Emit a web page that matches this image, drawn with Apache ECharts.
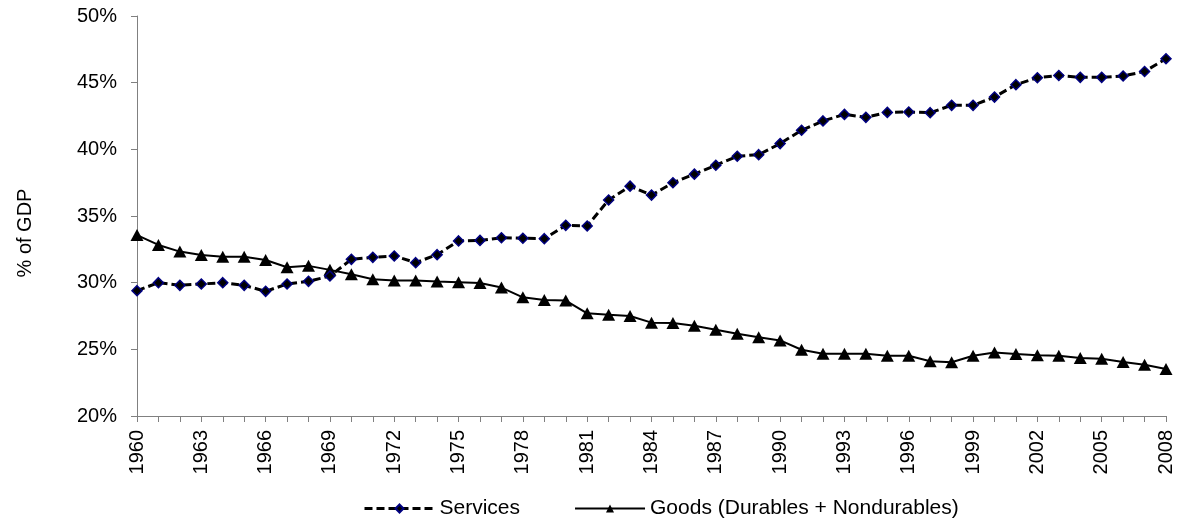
<!DOCTYPE html>
<html>
<head>
<meta charset="utf-8">
<script src="https://cdn.jsdelivr.net/npm/echarts@6/dist/echarts.min.js"></script>
<style>html,body{margin:0;padding:0;background:#fff;}#chart{width:1178px;height:520px;}</style>
</head>
<body>
<div id="chart"></div>
<script>
const years = [];
for (let y = 1960; y <= 2008; y++) years.push(String(y));
const services = [29.4, 30.0, 29.8, 29.9, 30.0, 29.8, 29.35, 29.9, 30.1, 30.5,
  31.75, 31.9, 32.0, 31.5, 32.1, 33.13, 33.17, 33.37, 33.33, 33.3,
  34.3, 34.25, 36.2, 37.24, 36.57, 37.49, 38.14, 38.81, 39.48, 39.6,
  40.43, 41.43, 42.13, 42.62, 42.4, 42.77, 42.8, 42.75, 43.3, 43.3,
  43.92, 44.85, 45.37, 45.54, 45.4, 45.4, 45.5, 45.84, 46.79];
const goods = [33.57, 32.83, 32.33, 32.08, 31.95, 31.95, 31.7, 31.16, 31.26, 30.96,
  30.63, 30.26, 30.16, 30.16, 30.08, 30.04, 29.98, 29.63, 28.9, 28.7,
  28.66, 27.7, 27.6, 27.5, 27.0, 26.97, 26.77, 26.47, 26.17, 25.9,
  25.67, 24.97, 24.67, 24.67, 24.67, 24.52, 24.52, 24.1, 24.03, 24.52,
  24.77, 24.65, 24.55, 24.52, 24.35, 24.3, 24.05, 23.85, 23.53];
const seriesNames = ['Services', 'Goods (Durables + Nondurables)'];
const yAxisTitle = '% of GDP';

const font = 'Liberation Sans, Arial, sans-serif';
const chart = echarts.init(document.getElementById('chart'), null, {renderer: 'canvas'});
chart.setOption({
  animation: false,
  backgroundColor: '#ffffff',
  grid: {left: 137, right: 12, top: 16, bottom: 104, containLabel: false},
  legend: {
    data: [
      {name: seriesNames[0], lineStyle: {width: 3, type: [8, 4]}},
      {name: seriesNames[1], lineStyle: {width: 2}}
    ],
    top: 493,
    left: 358,
    itemWidth: 70,
    itemHeight: 10,
    itemGap: 54,
    textStyle: {fontFamily: font, fontSize: 21, color: '#000'}
  },
  xAxis: {
    type: 'category',
    data: years,
    boundaryGap: false,
    axisLine: {lineStyle: {color: '#808080', width: 1}},
    axisTick: {interval: 0, length: 6, lineStyle: {color: '#808080'}},
    axisLabel: {interval: 2, rotate: 90, margin: 14, fontFamily: font, fontSize: 20, color: '#000'},
    splitLine: {show: false}
  },
  yAxis: {
    type: 'value',
    min: 20, max: 50, interval: 5,
    name: yAxisTitle,
    nameLocation: 'middle',
    nameGap: 102,
    nameRotate: 90,
    nameTextStyle: {fontFamily: font, fontSize: 20, color: '#000', padding: [0, 34, 0, 0]},
    axisLine: {show: true, lineStyle: {color: '#808080', width: 1}},
    axisTick: {show: true, length: 6, lineStyle: {color: '#808080'}},
    axisLabel: {formatter: '{value}%', margin: 20, fontFamily: font, fontSize: 20, color: '#000'},
    splitLine: {show: false}
  },
  series: [
    {
      name: seriesNames[0],
      type: 'line',
      data: services,
      symbol: 'diamond',
      symbolSize: 10,
      lineStyle: {color: '#000', width: 3, type: [8, 4]},
      itemStyle: {color: '#000', borderColor: '#000080', borderWidth: 1.5},
      z: 3
    },
    {
      name: seriesNames[1],
      type: 'line',
      data: goods,
      symbol: 'triangle',
      symbolSize: [13, 12],
      lineStyle: {color: '#000', width: 2},
      itemStyle: {color: '#000', borderColor: '#000', borderWidth: 0},
      z: 2
    }
  ]
});
</script>
</body>
</html>
